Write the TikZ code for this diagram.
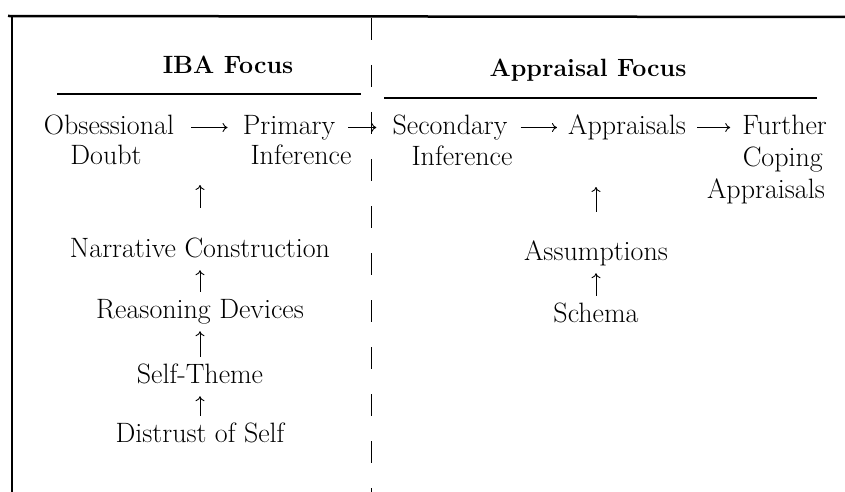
\documentclass[tikz,border=0pt]{standalone}
\usepackage{tikz}
\usetikzlibrary{arrows.meta,positioning}

\begin{document}
\begin{tikzpicture}[x=1pt,y=-1pt,
  lbl/.style={font=\fontsize{28}{33}\selectfont, inner sep=4pt,
    text height=20pt, text depth=7pt, anchor=base},
  hdr/.style={lbl, font=\fontsize{25}{30}\selectfont\bfseries},
  link/.style={-{To[length=5pt,width=9pt]}, line width=0.9pt},
  rule/.style={line width=1.2pt}]
\useasboundingbox (0,0) rectangle (845,492);
% Frame: top rule and left edge
\draw[line width=2.5pt] (8,16) -- (845,17);
\draw[line width=1.5pt] (12,16) -- (12,492);
% Dashed divider between the two columns
\draw[line width=1pt, dash pattern=on 22pt off 25pt] (371,18) -- (371,492);
% Column headings
\node[hdr] (iba) at (228,74) {IBA Focus};
\node[hdr] (apf) at (588,77) {Appraisal Focus};
\draw[rule] (57,94) -- (361,94);
\draw[rule] (384,98) -- (817,98);
% Main chain, first line of each term
\node[lbl] (obs) at (109,134) {Obsessional};
\node[lbl] (prim) at (289,134) {Primary};
\node[lbl] (sec) at (450,134) {Secondary};
\node[lbl] (appr) at (627,134) {Appraisals};
\node[lbl, anchor=base east] (furth) at (831,134) {Further};
% second lines
\node[lbl] (doubt) at (106,164) {Doubt};
\node[lbl] (inf1) at (301,164) {Inference};
\node[lbl] (inf2) at (462,165) {Inference};
\node[lbl, anchor=base east] (coping) at (827,166) {Coping};
\node[lbl, anchor=base east] (capp) at (829,198) {Appraisals};
\foreach \a/\b/\s/\e in {obs/prim/13/11,prim/sec/9/12,sec/appr/9/7,appr/furth/7/8}
  \draw[link, shorten <=\s pt, shorten >=\e pt] (\a) -- (\b);
% IBA side: vertical chain
\node[lbl] (narr) at (200,257) {Narrative Construction};
\node[lbl] (reas) at (200,318) {Reasoning Devices};
\node[lbl] (self) at (200,383) {Self-Theme};
\node[lbl] (dist) at (200,442) {Distrust of Self};
\coordinate (obslink) at (200,185);
% Appraisal side
\node[lbl] (assum) at (596,260) {Assumptions};
\node[lbl] (schema) at (596,322) {Schema};
\coordinate (aplink) at (596,187);
\foreach \a/\b in {dist/self,self/reas,reas/narr,schema/assum}
  \draw[link, shorten <=2pt, shorten >=2pt] (\a) -- (\b);
\draw[link, shorten <=25pt] (narr) -- (obslink);
\draw[link, shorten <=24pt] (assum) -- (aplink);
\end{tikzpicture}
\end{document}
